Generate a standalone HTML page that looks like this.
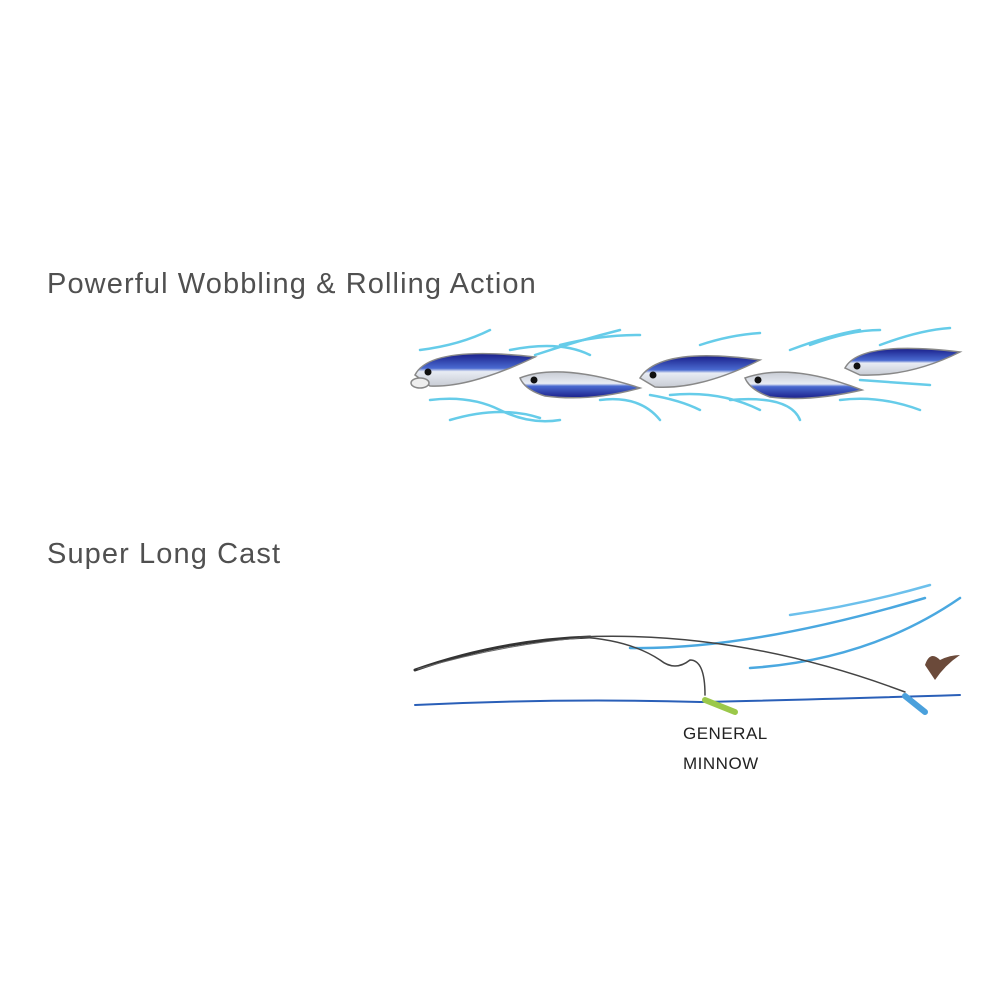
<!DOCTYPE html>
<html><head><meta charset="utf-8"><style>
html,body{margin:0;padding:0;background:#fff;width:1000px;height:1000px;overflow:hidden}
.t{position:absolute;left:47px;font-family:"Liberation Sans",sans-serif;font-size:29px;letter-spacing:1.1px;color:#505050;white-space:nowrap}
.l{position:absolute;left:683px;font-family:"Liberation Sans",sans-serif;font-size:17px;color:#222;letter-spacing:0.5px}
</style></head><body>
<div class="t" style="top:268px">Powerful Wobbling &amp; Rolling Action</div>
<div class="t" style="top:538px">Super Long Cast</div>
<div class="l" style="top:724px">GENERAL</div>
<div class="l" style="top:754px">MINNOW</div>
<svg width="1000" height="1000" style="position:absolute;left:0;top:0">
<defs>
<linearGradient id="f" x1="0" y1="0" x2="0" y2="1">
<stop offset="0" stop-color="#1a1f8a"/><stop offset="0.45" stop-color="#4a6ad0"/><stop offset="0.55" stop-color="#e8ecf4"/><stop offset="1" stop-color="#c8ccd4"/></linearGradient>
<linearGradient id="g" x1="0" y1="1" x2="0" y2="0">
<stop offset="0" stop-color="#1a1f8a"/><stop offset="0.45" stop-color="#4a6ad0"/><stop offset="0.55" stop-color="#e8ecf4"/><stop offset="1" stop-color="#c8ccd4"/></linearGradient>
</defs>
<g fill="none" stroke="#4cc4e6" stroke-width="2.5" stroke-linecap="round" opacity="0.85">
<path d="M420 350 Q460 345 490 330"/><path d="M430 400 Q470 395 500 410 Q530 425 560 420"/>
<path d="M450 420 Q500 405 540 418"/><path d="M535 355 Q580 340 620 330"/><path d="M560 345 Q600 335 640 335"/>
<path d="M600 400 Q640 395 660 420"/><path d="M700 345 Q730 335 760 333"/><path d="M670 395 Q720 390 760 410"/>
<path d="M730 400 Q790 395 800 420"/><path d="M790 350 Q830 335 860 330"/><path d="M810 345 Q850 330 880 330"/>
<path d="M840 400 Q880 395 920 410"/><path d="M880 345 Q920 330 950 328"/><path d="M860 380 Q900 383 930 385"/>
<path d="M510 350 Q560 340 590 355"/><path d="M650 395 Q680 400 700 410"/>
</g>
<g stroke="#888" stroke-width="1.5">
<path d="M415 375 Q430 345 535 357 Q470 388 430 386 Z" fill="url(#f)"/>
<ellipse cx="420" cy="383" rx="9" ry="5" fill="#eee"/>
<path d="M520 378 Q560 362 640 388 Q590 402 545 396 Q525 390 520 378 Z" fill="url(#g)"/>
<path d="M640 378 Q660 346 760 360 Q700 390 655 387 Z" fill="url(#f)"/>
<path d="M745 378 Q790 362 862 390 Q810 402 770 397 Q750 390 745 378 Z" fill="url(#g)"/>
<path d="M845 368 Q860 340 960 352 Q910 377 860 375 Z" fill="url(#f)"/>
</g>
<g fill="#111"><circle cx="428" cy="372" r="3.5"/><circle cx="534" cy="380" r="3.5"/><circle cx="653" cy="375" r="3.5"/><circle cx="758" cy="380" r="3.5"/><circle cx="857" cy="366" r="3.5"/></g>
<g fill="none" stroke-linecap="round">
<path d="M790 615 Q860 605 930 585" stroke="#6cc0ec" stroke-width="2.5"/>
<path d="M630 648 Q750 650 925 598" stroke="#4aa8e0" stroke-width="2.5"/>
<path d="M750 668 Q870 660 960 598" stroke="#4aa8e0" stroke-width="2.5"/>
<path d="M415 705 Q560 698 700 702 Q800 700 960 695" stroke="#2a5fb8" stroke-width="2"/>
<path d="M415 670 Q500 640 590 637" stroke="#333" stroke-width="3"/>
<path d="M418 669 Q500 645 580 638" stroke="#666" stroke-width="1"/>
<path d="M580 637 Q630 640 660 660 Q675 672 690 660 Q705 660 705 695" stroke="#444" stroke-width="1.5"/>
<path d="M580 637 Q740 630 905 692" stroke="#444" stroke-width="1.5"/>
</g>
<path d="M705 700 L735 712" stroke="#9bc84a" stroke-width="6" stroke-linecap="round"/>
<path d="M905 696 L925 712" stroke="#4aa0dc" stroke-width="6" stroke-linecap="round"/>
<path d="M925 665 Q930 650 940 660 Q950 655 960 655 Q945 665 935 680 Z" fill="#6b4a3a"/>
</svg>
</body></html>
